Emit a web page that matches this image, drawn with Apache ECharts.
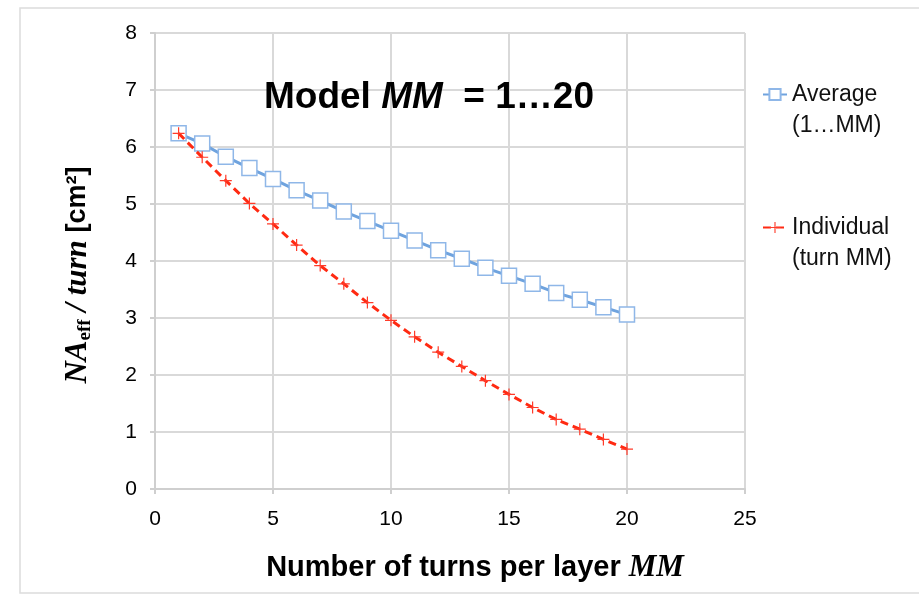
<!DOCTYPE html>
<html>
<head>
<meta charset="utf-8">
<script src="https://cdn.jsdelivr.net/npm/echarts@6/dist/echarts.min.js"></script>
<style>
  html, body { margin: 0; padding: 0; background: #fff; }
  #chart { width: 919px; height: 594px; }
</style>
</head>
<body>
<div id="chart"></div>
<script>
// turns per layer MM
var turns = [1, 2, 3, 4, 5, 6, 7, 8, 9, 10, 11, 12, 13, 14, 15, 16, 17, 18, 19, 20];
// NA_eff / turn [cm2], averaged over turns 1..MM
var average = [6.24, 6.06, 5.83, 5.63, 5.44, 5.24, 5.06, 4.87, 4.70, 4.53,
               4.36, 4.19, 4.04, 3.88, 3.74, 3.60, 3.44, 3.32, 3.19, 3.06];
// NA_eff / turn [cm2] of the individual turn MM
var individual = [6.24, 5.82, 5.41, 5.01, 4.65, 4.28, 3.92, 3.60, 3.27, 2.96,
                  2.67, 2.40, 2.15, 1.90, 1.66, 1.43, 1.22, 1.05, 0.87, 0.70];
var xTicks = [0, 5, 10, 15, 20, 25];
var yTicks = [0, 1, 2, 3, 4, 5, 6, 7, 8];

var sans = "'Liberation Sans', Arial, sans-serif";
var serif = "'Liberation Serif', 'Times New Roman', serif";
var gridColor = "#d9d9d9";
// thin plus sign used as marker
var plusPath = "path://M0,0.45h1v0.1h-1z M0.45,0h0.1v1h-0.1z";

function pairs(xs, ys) {
  var out = [];
  for (var i = 0; i < xs.length; i++) {
    out.push([xs[i], ys[i]]);
  }
  return out;
}

var legendText = {
  fontFamily: sans,
  fontSize: 23,
  color: "#111",
  lineHeight: 31,
};

var myChart = echarts.init(document.getElementById("chart"));
var option = {
  backgroundColor: "#fff",
  animation: false,
  graphic: [
    {
      type: "rect",
      shape: { x: 20, y: 8, width: 920, height: 585 },
      style: { fill: "none", stroke: "#dcdcdc", lineWidth: 1.5 },
      silent: true,
    },
  ],
  title: {
    text: "{a|Model }{b|MM}{a|  = 1…20}",
    left: 259,
    top: 74,
    textStyle: {
      rich: {
        a: { fontFamily: sans, fontWeight: "bold", fontSize: 37, color: "#000" },
        b: { fontFamily: sans, fontWeight: "bold", fontStyle: "italic", fontSize: 37, color: "#000" },
      },
    },
  },
  legend: [
    {
      data: ["Average"],
      orient: "vertical",
      left: 757,
      top: 43,
      itemWidth: 24,
      itemHeight: 14,
      formatter: function () {
        // empty first line keeps the icon level with "Average"
        return " \nAverage\n(1…MM)";
      },
      textStyle: legendText,
    },
    {
      data: ["Individual"],
      orient: "vertical",
      left: 757,
      top: 176,
      itemWidth: 24,
      itemHeight: 14,
      formatter: function () {
        return " \nIndividual\n(turn MM)";
      },
      textStyle: legendText,
    },
  ],
  grid: {
    left: 155,
    right: 174,
    top: 33,
    bottom: 105,
  },
  xAxis: {
    type: "value",
    min: xTicks[0],
    max: xTicks[xTicks.length - 1],
    interval: 5,
    name: "Number of turns per layer {i|MM}",
    nameLocation: "middle",
    nameGap: 63,
    nameTextStyle: {
      fontFamily: sans,
      fontWeight: "bold",
      fontSize: 29,
      color: "#000",
      padding: [0, 0, 0, 50],
      rich: {
        i: { fontFamily: serif, fontStyle: "italic", fontWeight: "bold", fontSize: 31, color: "#000" },
      },
    },
    axisLine: { lineStyle: { color: "#cfcfcf", width: 2 } },
    axisTick: { show: true, length: 5, lineStyle: { color: "#cfcfcf", width: 2 } },
    axisLabel: { fontFamily: sans, fontSize: 21, color: "#000", margin: 20 },
    splitLine: { show: true, lineStyle: { color: gridColor, width: 2 } },
  },
  yAxis: {
    type: "value",
    min: yTicks[0],
    max: yTicks[yTicks.length - 1],
    interval: 1,
    name: "{n|NA}{s|eff}{n| / turn }{c|[cm²]}",
    nameLocation: "middle",
    nameRotate: 90,
    nameGap: 60,
    nameTextStyle: {
      padding: [0, 28, 0, 0],
      rich: {
        n: { fontFamily: serif, fontStyle: "italic", fontWeight: "bold", fontSize: 31, color: "#000" },
        s: { fontFamily: serif, fontWeight: "bold", fontSize: 19, color: "#000", padding: [16, 0, 0, 0] },
        c: { fontFamily: sans, fontWeight: "bold", fontSize: 27, color: "#000" },
      },
    },
    axisLine: { show: true, lineStyle: { color: "#cfcfcf", width: 2 } },
    axisTick: { show: true, length: 5, lineStyle: { color: "#cfcfcf", width: 2 } },
    axisLabel: { fontFamily: sans, fontSize: 21, color: "#000", margin: 18 },
    splitLine: { show: true, lineStyle: { color: gridColor, width: 2 } },
  },
  series: [
    {
      name: "Average",
      type: "line",
      data: pairs(turns, average),
      symbol: "rect",
      symbolSize: 15,
      showAllSymbol: true,
      lineStyle: { color: "#6fa3de", width: 3 },
      itemStyle: { color: "#fff", borderColor: "#8fb7e8", borderWidth: 1.5 },
      z: 2,
    },
    {
      name: "Individual",
      type: "line",
      data: pairs(turns, individual),
      symbol: plusPath,
      symbolSize: 12,
      showAllSymbol: true,
      lineStyle: { color: "#ff2a12", width: 3, type: [8, 5] },
      itemStyle: { color: "#ff3b2a" },
      z: 3,
    },
  ],
};
myChart.setOption(option);
</script>
</body>
</html>
